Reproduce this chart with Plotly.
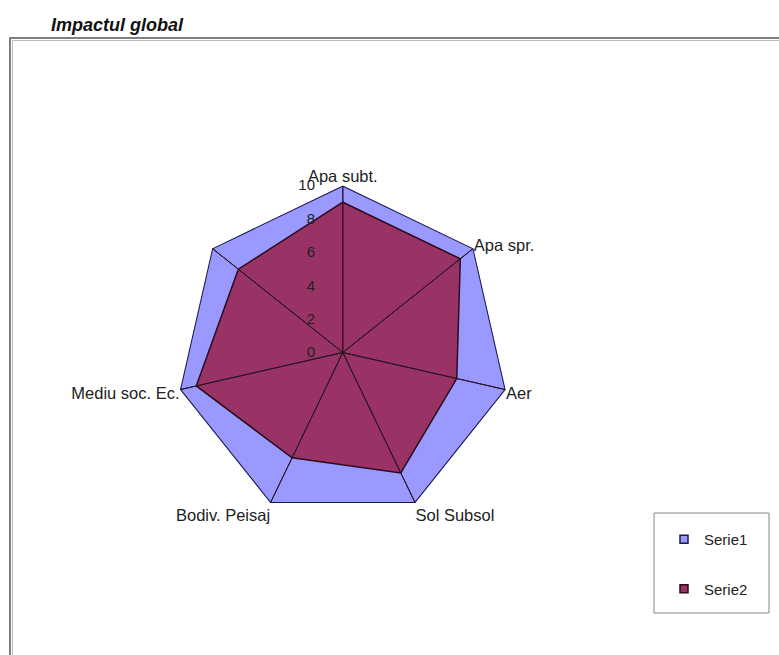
import plotly.graph_objects as go

# ---- data ----
categories = ["Apa subt.", "Apa spr.", "Aer", "Sol Subsol", "Bodiv. Peisaj", "Mediu soc. Ec.", " "]
serie1 = [10, 10, 10, 10, 10, 10, 10]
serie2 = [9, 9, 7, 8, 7, 9, 8]
series_names = ["Serie1", "Serie2"]
radial_ticks = [0, 2, 4, 6, 8, 10]
radial_max = 10
title_text = "Impactul global"

# ---- styles ----
FONT = "Liberation Sans, Arial, sans-serif"
C1_FILL = "#9999FF"
C1_LINE = "#1a1a46"
C2_FILL = "#993366"
C2_LINE = "#2a0a1c"

fig = go.Figure()

fig.add_trace(go.Scatterpolar(
    r=serie1 + serie1[:1], theta=categories + categories[:1],
    mode="lines", fill="toself", fillcolor=C1_FILL,
    line=dict(color=C1_LINE, width=2), showlegend=False, name=series_names[0]))
fig.add_trace(go.Scatterpolar(
    r=serie2 + serie2[:1], theta=categories + categories[:1],
    mode="lines", fill="toself", fillcolor=C2_FILL,
    line=dict(color=C2_LINE, width=1.5), showlegend=False, name=series_names[1]))

# spokes (category axis lines) drawn above the fills
spoke_r, spoke_t = [], []
for c in categories:
    spoke_r += [0, radial_max, 0]
    spoke_t += [c, c, c]
fig.add_trace(go.Scatterpolar(r=spoke_r, theta=spoke_t, mode="lines",
                              line=dict(color="#2b1526", width=1),
                              showlegend=False, hoverinfo="skip"))

# legend entries
for name, fillc, linec, grp in [(series_names[0], C1_FILL, C1_LINE, "a"),
                                (series_names[1], C2_FILL, C2_LINE, "b")]:
    fig.add_trace(go.Scatterpolar(r=[None], theta=[None], mode="markers", name=name,
                                  legendgroup=grp,
                                  marker=dict(symbol="square", size=8, color=fillc,
                                              line=dict(color=linec, width=1.5))))

W, H = 779, 655
cx, cy, R = 342.8, 352.5, 167

fig.update_layout(
    width=W, height=H,
    margin=dict(l=0, r=0, t=0, b=0),
    paper_bgcolor="white", plot_bgcolor="white",
    font=dict(family=FONT, size=15, color="#222"),
    polar=dict(
        domain=dict(x=[(cx - R) / W, (cx + R) / W],
                    y=[(H - cy - R) / H, (H - cy + R) / H]),
        bgcolor="white",
        gridshape="linear",
        angularaxis=dict(type="category", categoryarray=categories,
                         direction="clockwise", rotation=90,
                         showgrid=False, showline=False, ticks="",
                         tickfont=dict(size=16.5, color="#222")),
        radialaxis=dict(range=[0, radial_max], tickvals=radial_ticks,
                        angle=90, side="counterclockwise", tickangle=90,
                        showgrid=False, showline=False,
                        ticks="outside", ticklen=22, tickcolor="rgba(0,0,0,0)",
                        tickfont=dict(size=15, color="#222")),
    ),
    legend=dict(x=664 / W, y=1 - 523 / H, xanchor="left", yanchor="top",
                bgcolor="rgba(0,0,0,0)", borderwidth=0,
                tracegroupgap=27, traceorder="grouped",
                font=dict(size=15, color="#222")),
    annotations=[dict(text="<b><i>" + title_text + "</i></b>",
                      x=49 / W, y=1 - 25 / H, xref="paper", yref="paper",
                      xanchor="left", yanchor="middle", showarrow=False,
                      font=dict(size=18, color="#111", family=FONT))],
    shapes=[
        dict(type="rect", xref="paper", yref="paper",
             x0=10 / W, y0=-0.1, x1=1.1, y1=1 - 38 / H,
             line=dict(color="#555", width=1.5)),
        dict(type="rect", xref="paper", yref="paper",
             x0=12.5 / W, y0=-0.1, x1=1.1, y1=1 - 40.5 / H,
             line=dict(color="#bbb", width=1)),
        dict(type="rect", xref="paper", yref="paper",
             x0=654 / W, y0=1 - 613 / H, x1=769 / W, y1=1 - 513 / H,
             line=dict(color="#888", width=1)),
    ],
)

fig.write_html("out.html")
